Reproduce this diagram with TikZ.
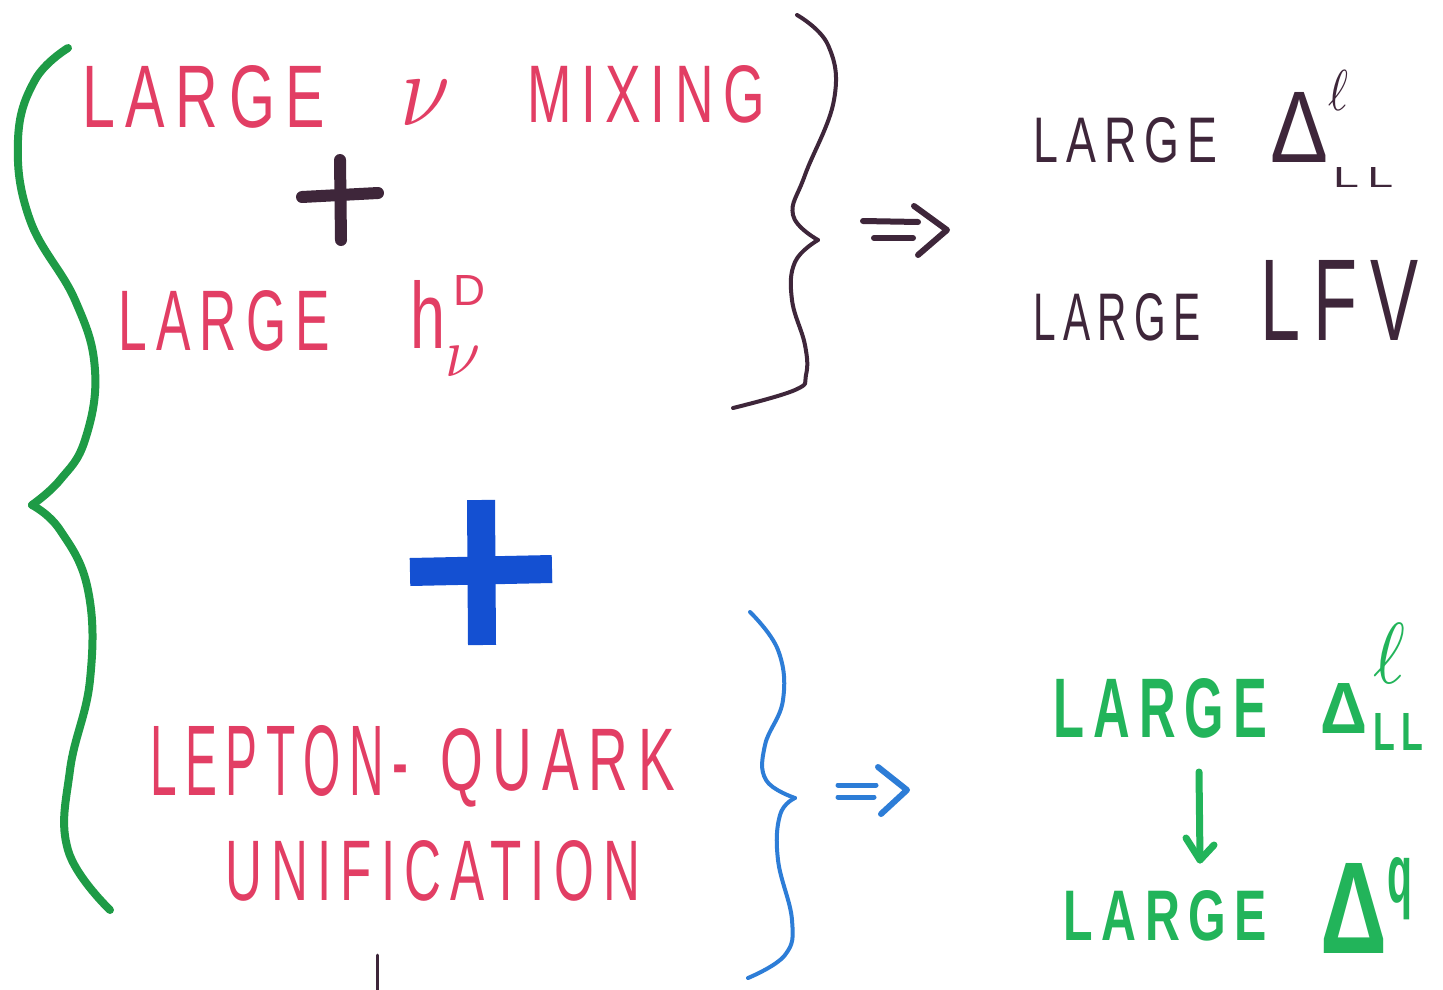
\documentclass[tikz,border=0pt]{standalone}
\usepackage{fontspec}
\setmainfont{Liberation Sans}
\newfontfamily\hwsp[LetterSpace=18]{Liberation Sans}
\usepackage{graphicx}
\definecolor{pred}{RGB}{226,62,100}
\definecolor{dk}{RGB}{62,38,58}
\definecolor{bplus}{RGB}{20,80,210}
\definecolor{bbr}{RGB}{45,125,215}
\definecolor{gtx}{RGB}{34,180,90}
\definecolor{gbr}{RGB}{30,155,70}
\newcommand\rb[3]{\resizebox{#1pt}{#2pt}{#3}}
\newcommand\ls[1]{\hwsp #1}
\begin{document}
\begin{tikzpicture}[x=1pt,y=-1pt,line cap=round,line join=round]
\tikzset{hw/.style={inner sep=0pt,anchor=base west}}
\useasboundingbox (0,0) rectangle (1443,990);
\fill[white] (0,0) rectangle (1443,990);
% red top block
\node[hw,pred] (l1a) at (82,127) {\rb{243}{62}{\ls{LARGE}}};
\node[hw,pred] (l1b) at (400,125) {\rb{50}{45}{$\nu$}};
\node[hw,pred] (l1c) at (527,122) {\rb{238}{57}{\ls{MIXING}}};
\node[hw,pred] (l2a) at (118,350) {\rb{212}{60}{\ls{LARGE}}};
\node[hw,pred] (l2h) at (410,348) {\rb{35}{68}{h}};
\node[hw,pred] (l2D) at (453,305) {\rb{32}{30}{D}};
\node[hw,pred] (l2n) at (445,376) {\rb{35}{30}{$\nu$}};
% dark plus
\draw[dk,line width=12] (340,160) -- (341,240);
\draw[dk,line width=12] (302,197) -- (378,193);
% blue plus
\draw[bplus,line width=28,line cap=butt] (481,500) -- (482,645);
\draw[bplus,line width=28,line cap=butt] (410,572) -- (552,569);
% red bottom block
\node[hw,pred] (l3a) at (150,795) {\rb{258}{70}{\ls{LEPTON-}}};
\node[hw,pred] (l3b) at (440,790) {\rb{235}{62}{\ls{QUARK}}};
\node[hw,pred] (l3c) at (225,900) {\rb{415}{60}{\ls{UNIFICATION}}};
% dark results
\node[hw,dk] (r1a) at (1033,162) {\rb{184}{45}{\ls{LARGE}}};
\node[hw,dk] (r1d) at (1270,162) {\rb{58}{70}{Δ}};
\node[hw,dk] (r1l) at (1328,110) {\rb{20}{40}{$\ell$}};
\node[hw,dk] (r1s) at (1333,187) {\rb{60}{20}{\ls{LL}}};
\node[hw,dk] (r2a) at (1033,340) {\rb{167}{47}{\ls{LARGE}}};
\node[hw,dk] (r2b) at (1260,340) {\rb{158}{80}{\ls{LFV}}};
% green results
\node[hw,gtx] (g1a) at (1053,737) {\rb{214}{59}{\bfseries\ls{LARGE}}};
\node[hw,gtx] (g1d) at (1320,733) {\rb{47}{50}{\bfseries Δ}};
\node[hw,gtx] (g1l) at (1373,683) {\rb{32}{60}{$\ell$}};
\node[hw,gtx] (g1s) at (1373,750) {\rb{50}{37}{\bfseries\ls{LL}}};
\node[hw,gtx] (g2a) at (1063,940) {\rb{204}{50}{\bfseries\ls{LARGE}}};
\node[hw,gtx] (g2d) at (1320,953) {\rb{67}{90}{\bfseries Δ}};
\node[hw,gtx] (g2q) at (1387,902) {\rb{25}{45}{\bfseries q}};
\coordinate (ga1) at (1199,772);
\coordinate (ga2) at (1200,860);
\draw[gtx,line width=7] (ga1) -- (ga2);
\draw[gtx,line width=7] (1186,838) -- (ga2) -- (1214,845);
% dark brace and arrow
\draw[dk,line width=4] plot[smooth,tension=0.7] coordinates {(797,15) (828,45) (834,100) (805,175) (793,215) (818,240)};
\draw[dk,line width=4] plot[smooth,tension=0.7] coordinates {(818,240) (795,262) (792,300) (805,345) (806,375) (795,390) (733,408)};
\draw[dk,line width=6] (863,221) -- (918,222);
\draw[dk,line width=6] (874,238) -- (913,238);
\draw[dk,line width=6] (914,206) -- (947,230) -- (918,255);
% green brace
\draw[gbr,line width=8] plot[smooth,tension=0.7] coordinates {(68,48) (35,80) (18,140) (30,220) (75,300) (95,370) (85,440) (60,480) (32,505)};
\draw[gbr,line width=8] plot[smooth,tension=0.7] coordinates {(32,505) (60,530) (88,590) (90,680) (70,770) (68,850) (110,910)};
% blue brace and arrow
\draw[bbr,line width=4] plot[smooth,tension=0.7] coordinates {(750,612) (778,650) (783,700) (765,745) (766,780) (795,798)};
\draw[bbr,line width=4] plot[smooth,tension=0.7] coordinates {(795,798) (780,815) (778,860) (792,920) (785,955) (748,978)};
\draw[bbr,line width=5] (838,785) -- (876,785);
\draw[bbr,line width=5] (838,797) -- (874,797);
\draw[bbr,line width=6] (878,767) -- (907,790) -- (881,814);
% small mark at bottom
\draw[dk,line width=3] (377,955) -- (377,990);
\end{tikzpicture}
\end{document}
